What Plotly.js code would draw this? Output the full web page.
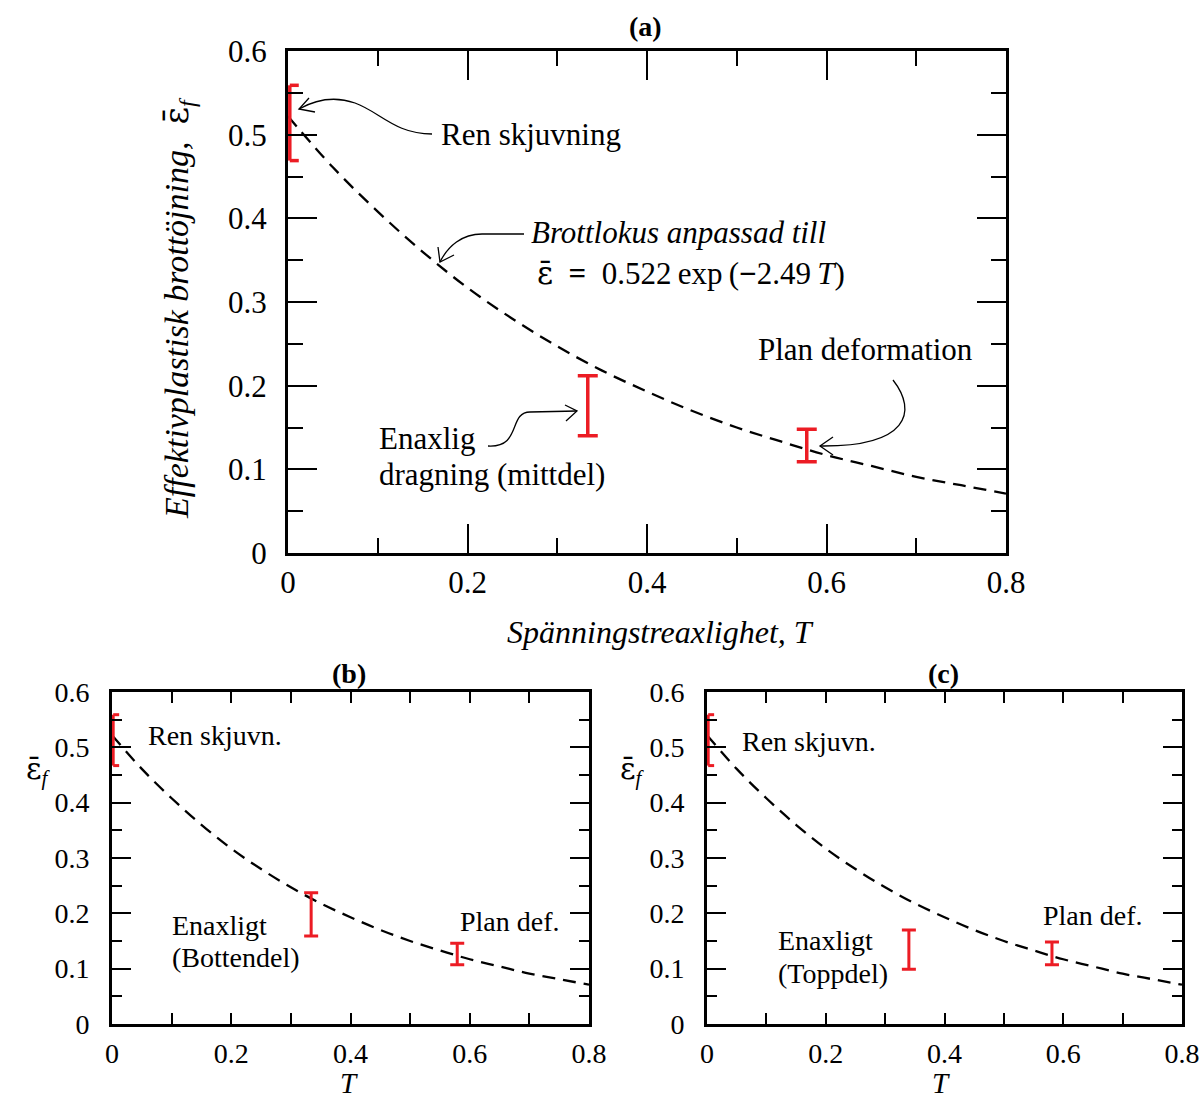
<!DOCTYPE html>
<html>
<head>
<meta charset="utf-8">
<script src="https://cdn.plot.ly/plotly-3.0.1.min.js"></script>
<style>html,body{margin:0;padding:0;background:#fff;}</style>
</head>
<body>
<div id="chart" style="width:1203px;height:1100px;"></div>
<script>
// Fitted fracture locus
const T_fit = [0, 0.05, 0.1, 0.15, 0.2, 0.25, 0.3, 0.35, 0.4, 0.45, 0.5, 0.55, 0.6, 0.65, 0.7, 0.75, 0.8];
const eps_fit = [0.522, 0.461, 0.408, 0.360, 0.317, 0.280, 0.247, 0.218, 0.193, 0.170, 0.150, 0.133, 0.117, 0.104, 0.091, 0.081, 0.071];

// Error bars (a)
const errT_a  = [0.002, 0.334, 0.578];
const errLo_a = [0.469, 0.140, 0.109];
const errHi_a = [0.559, 0.212, 0.148];
// Error bars (b)
const errT_b  = [0.002, 0.334, 0.579];
const errLo_b = [0.467, 0.159, 0.107];
const errHi_b = [0.559, 0.237, 0.146];
// Error bars (c)
const errT_c  = [0.002, 0.340, 0.581];
const errLo_c = [0.467, 0.099, 0.107];
const errHi_c = [0.559, 0.170, 0.148];

const FONT = "'Liberation Serif', 'Times New Roman', serif";
const RED = "rgb(236,28,36)";
const W = 1203, H = 1100;

function curve(xa, ya) {
  return {x: T_fit, y: eps_fit, xaxis: xa, yaxis: ya, type: 'scatter', mode: 'lines',
    line: {color: 'black', width: 2.3, dash: '13px,8px', shape: 'spline'}, hoverinfo: 'skip', showlegend: false};
}
// Error bars: points away from the axis get full caps; the point on the axis
// (pure shear) gets its caps drawn only to the right (the left half is hidden by the axis).
function bars(xa, ya, T, lo, hi, thick, w, capLen) {
  const out = [];
  const idx = [1, 2];
  out.push({x: idx.map(i => T[i]), y: idx.map(i => (lo[i] + hi[i]) / 2), xaxis: xa, yaxis: ya,
    type: 'scatter', mode: 'markers', marker: {size: 1, opacity: 0}, showlegend: false, hoverinfo: 'skip',
    error_y: {type: 'data', array: idx.map(i => (hi[i] - lo[i]) / 2), symmetric: true, color: RED, thickness: thick, width: w}});
  out.push({x: [T[0]], y: [(lo[0] + hi[0]) / 2], xaxis: xa, yaxis: ya,
    type: 'scatter', mode: 'markers', marker: {size: 1, opacity: 0}, showlegend: false, hoverinfo: 'skip',
    error_y: {type: 'data', array: [(hi[0] - lo[0]) / 2], symmetric: true, color: RED, thickness: thick, width: 0}});
  out.push({x: [T[0], T[0]], y: [lo[0], hi[0]], xaxis: xa, yaxis: ya,
    type: 'scatter', mode: 'markers', marker: {size: 1, opacity: 0}, showlegend: false, hoverinfo: 'skip',
    error_x: {type: 'data', array: [capLen, capLen], arrayminus: [0, 0], symmetric: false, color: RED, thickness: thick, width: 0}});
  return out;
}

const traces = [].concat(
  [curve('x', 'y')], bars('x', 'y', errT_a, errLo_a, errHi_a, 3.5, 10, 0.010),
  [curve('x2', 'y2')], bars('x2', 'y2', errT_b, errLo_b, errHi_b, 3, 7, 0.010),
  [curve('x3', 'y3')], bars('x3', 'y3', errT_c, errLo_c, errHi_c, 3, 7, 0.010)
);

function xax(domain, anchor, major, minor, fs, standoff) {
  return {domain: domain, anchor: anchor, range: [0, 0.8], dtick: 0.2, tick0: 0,
    ticks: 'inside', ticklen: major, tickwidth: 2, tickcolor: 'black',
    minor: {dtick: 0.1, ticks: 'inside', ticklen: minor, tickwidth: 2, tickcolor: 'black'},
    showline: true, linewidth: 3, linecolor: 'black', mirror: 'ticks',
    showgrid: false, zeroline: false, fixedrange: true,
    tickfont: {family: FONT, size: fs, color: 'black'}, ticklabelstandoff: standoff};
}
function yax(domain, anchor, major, minor, fs, standoff) {
  return {domain: domain, anchor: anchor, range: [0, 0.6], dtick: 0.1, tick0: 0,
    ticks: 'inside', ticklen: major, tickwidth: 2, tickcolor: 'black',
    minor: {dtick: 0.05, ticks: 'inside', ticklen: minor, tickwidth: 2, tickcolor: 'black'},
    showline: true, linewidth: 3, linecolor: 'black', mirror: 'ticks',
    showgrid: false, zeroline: false, fixedrange: true,
    tickfont: {family: FONT, size: fs, color: 'black'}, ticklabelstandoff: standoff};
}

function px(x) { return x / W; }
function py(y) { return 1 - y / H; }
function P(x, y) { return px(x).toFixed(5) + ',' + py(y).toFixed(5); }

function txt(x, y, text, size, extra) {
  return Object.assign({xref: 'paper', yref: 'paper', x: px(x), y: py(y), text: text, showarrow: false,
    xanchor: 'left', yanchor: 'middle', font: {family: FONT, size: size, color: 'black'}}, extra || {});
}
function ctxt(x, y, text, size, extra) {
  return txt(x, y, text, size, Object.assign({xanchor: 'center'}, extra || {}));
}

const EPSBAR = "<span style=\"font-family:'DejaVu Serif'\">ε̄</span>";
const SP = '\u00a0\u00a0';

const annotations = [
  // titles
  ctxt(645, 27, '<b>(a)</b>', 28),
  ctxt(349, 673, '<b>(b)</b>', 28),
  ctxt(943, 673, '<b>(c)</b>', 28),
  // axis titles (a)
  ctxt(660, 632, '<i>Spänningstreaxlighet, T</i>', 32),
  ctxt(178, 308, '<i>Effektivplastisk brottöjning,</i>' + SP + EPSBAR + '<sub><i>f</i></sub>', 34, {textangle: -90}),
  // axis titles (b), (c)
  ctxt(349, 1083, '<i>T</i>', 29),
  ctxt(941, 1083, '<i>T</i>', 29),
  ctxt(38, 770, EPSBAR + '<sub><i>f</i></sub>', 30),
  ctxt(632, 770, EPSBAR + '<sub><i>f</i></sub>', 30),
  // (a) labels
  txt(439, 134, 'Ren skjuvning', 31),
  txt(529, 233, '<i>Brottlokus anpassad till</i>', 31),
  txt(535, 273, EPSBAR + SP + '<b>=</b>' + SP + '0.522\u2009exp\u2009(<b>−</b>2.49\u2009<i>T</i>)', 31),
  txt(756, 350, 'Plan deformation', 31),
  txt(377, 438, 'Enaxlig', 31),
  txt(377, 474, 'dragning (mittdel)', 31),
  // (b) labels
  txt(146, 735, 'Ren skjuvn.', 28),
  txt(170, 925, 'Enaxligt', 28),
  txt(170, 958, '(Bottendel)', 28),
  txt(458, 921, 'Plan def.', 28),
  // (c) labels
  txt(740, 741, 'Ren skjuvn.', 28),
  txt(776, 940, 'Enaxligt', 28),
  txt(776, 973, '(Toppdel)', 28),
  txt(1041, 915, 'Plan def.', 28)
];

function pathShape(d) {
  return {type: 'path', xref: 'paper', yref: 'paper', path: d, line: {color: 'black', width: 1.3}, layer: 'above'};
}
const shapes = [
  // Ren skjuvning arrow
  pathShape('M ' + P(432, 134) + ' C ' + P(395, 134) + ' ' + P(380, 112) + ' ' + P(355, 103) + ' C ' + P(335, 96) + ' ' + P(315, 100) + ' ' + P(299, 109)),
  pathShape('M ' + P(309, 98) + ' L ' + P(299, 109) + ' L ' + P(315, 112)),
  // Brottlokus arrow
  pathShape('M ' + P(524, 234) + ' L ' + P(482, 234) + ' C ' + P(462, 234) + ' ' + P(448, 246) + ' ' + P(440, 262)),
  pathShape('M ' + P(438, 247) + ' L ' + P(440, 262) + ' L ' + P(454, 255)),
  // Plan deformation arrow
  pathShape('M ' + P(893, 380) + ' C ' + P(918, 412) + ' ' + P(908, 447) + ' ' + P(820, 446)),
  pathShape('M ' + P(833, 437) + ' L ' + P(820, 446) + ' L ' + P(833, 455)),
  // Enaxlig arrow
  pathShape('M ' + P(488, 446) + ' C ' + P(522, 448) + ' ' + P(508, 412) + ' ' + P(530, 412) + ' L ' + P(577, 411)),
  pathShape('M ' + P(565, 405) + ' L ' + P(577, 411) + ' L ' + P(566, 421))
];

const layout = {
  width: W, height: H, margin: {l: 0, r: 0, t: 0, b: 0},
  paper_bgcolor: 'white', plot_bgcolor: 'white', showlegend: false,
  font: {family: FONT, color: 'black'},
  xaxis: xax([288 / W, 1006 / W], 'y', 29, 15, 31, 0),
  yaxis: yax([1 - 553 / H, 1 - 51 / H], 'x', 29, 15, 31, 12),
  xaxis2: xax([112 / W, 589 / W], 'y2', 11, 11, 28, 2),
  yaxis2: yax([1 - 1024 / H, 1 - 692 / H], 'x2', 19, 10, 28, 14),
  xaxis3: xax([707 / W, 1182 / W], 'y3', 11, 11, 28, 2),
  yaxis3: yax([1 - 1024 / H, 1 - 692 / H], 'x3', 19, 10, 28, 14),
  annotations: annotations,
  shapes: shapes
};

Plotly.newPlot('chart', traces, layout, {displayModeBar: false, staticPlot: true});
</script>
</body>
</html>
